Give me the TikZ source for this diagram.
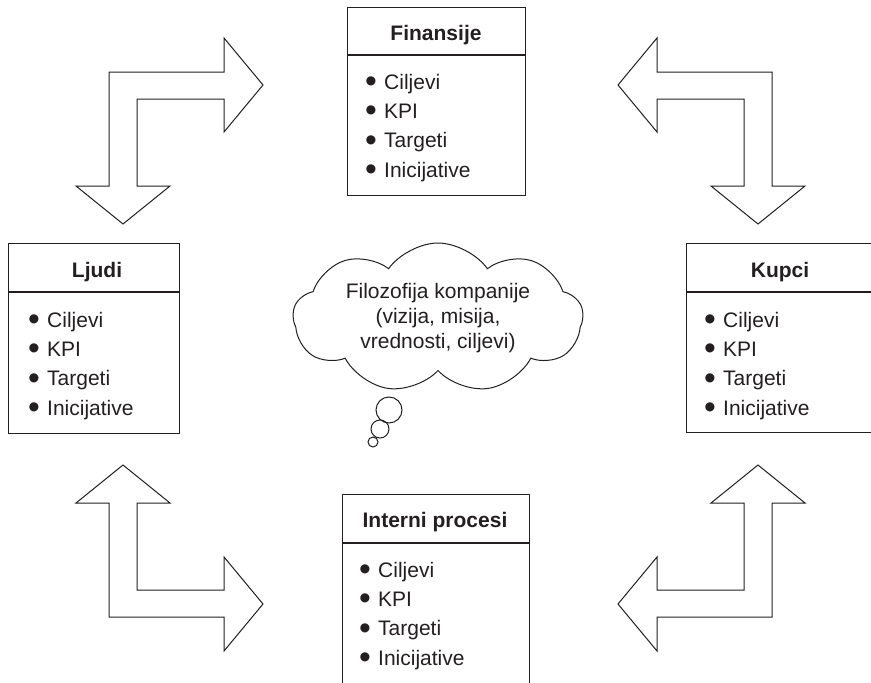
\documentclass[tikz,border=0pt]{standalone}
\usepackage{fontspec}
\setmainfont{Liberation Sans}
\usepackage{graphicx}
\usetikzlibrary{positioning, shapes.symbols}
\definecolor{ink}{HTML}{231F20}
\newcommand{\kbul}{\makebox[19pt][l]{\raisebox{-3.5pt}{\scalebox{1.6}{\textbullet}}}}
\newcommand{\kpiitems}{\kbul Ciljevi\\\kbul KPI\\\kbul Targeti\\\kbul Inicijative}
\tikzset{
x=1pt, y=-1pt, % pixel-like units, y grows downwards
kpibox/.style={draw=ink, line width=1.2pt, anchor=north west, inner sep=0pt}, % frame of a perspective
boxhead/.style={text=ink, font=\bfseries\fontsize{21}{29}\selectfont, anchor=base}, % title of a perspective
boxlist/.style={text=ink, font=\fontsize{21}{29.3}\selectfont, align=left, anchor=base west, inner sep=0pt}, % the four items, placed by the last line
blockarrow/.style={draw=ink, line width=1pt, line join=miter, fill=white}, % bent hollow arrows
idea/.style={cloud, cloud puffs=9, cloud puff arc=110, cloud ignores aspect, draw=ink, line width=1pt, minimum width=290pt, minimum height=150pt, text=ink, font=\fontsize{21}{25}\selectfont, align=center},
bubble/.style={circle, draw=ink, line width=1pt, inner sep=0pt},
}
\begin{document}
\begin{tikzpicture}
\clip (0,0) rectangle (871,683);

% bent arrows, one per corner
\foreach \sx/\sy in {1/1, -1/1, 1/-1, -1/-1} {
  \begin{scope}[shift={(440.5,344.5)}, xscale=\sx, yscale=\sy]
    \draw[blockarrow] (-177.5,-259.5) -- (-216.5,-306.5) -- (-216.5,-272.5)
      -- (-331.5,-272.5) -- (-331.5,-158.5) -- (-364.5,-158.5)
      -- (-317.5,-120.5) -- (-270.5,-158.5) -- (-303.5,-158.5)
      -- (-303.5,-245.5) -- (-216.5,-245.5) -- (-216.5,-212.5) -- cycle;
  \end{scope}
}

% perspectives
\node[kpibox, minimum width=178pt, minimum height=188pt] (fin) at (347,7) {};
\draw[ink, line width=1.2pt] ([yshift=-48pt]fin.north west) -- ([yshift=-48pt]fin.north east);
\node[boxhead] (fin-head) at (436,40) {Finansije};
\node[boxlist] (fin-list) at (365,177) {\kpiitems};

\node[kpibox, minimum width=171pt, minimum height=190pt] (ljudi) at (8,243) {};
\draw[ink, line width=1.2pt] ([yshift=-49pt]ljudi.north west) -- ([yshift=-49pt]ljudi.north east);
\node[boxhead] (ljudi-head) at (97,277) {Ljudi};
\node[boxlist] (ljudi-list) at (28,415) {\kpiitems};

\node[kpibox, minimum width=188pt, minimum height=189pt] (kupci) at (686,243) {};
\draw[ink, line width=1.2pt] ([yshift=-49pt]kupci.north west) -- ([yshift=-49pt]kupci.north east);
\node[boxhead] (kupci-head) at (780,277) {Kupci};
\node[boxlist] (kupci-list) at (704,415) {\kpiitems};

\node[kpibox, minimum width=187pt, minimum height=210pt] (proc) at (342,494) {};
\draw[ink, line width=1.2pt] ([yshift=-49pt]proc.north west) -- ([yshift=-49pt]proc.north east);
\node[boxhead] (proc-head) at (435,527) {Interni procesi};
\node[boxlist] (proc-list) at (359,665) {\kpiitems};

% company philosophy
\node[idea] (cloud) at (438,318) {Filozofija kompanije\\(vizija, misija,\\vrednosti, ciljevi)};
\node[bubble, minimum size=26pt] (b1) at (389,410) {};
\node[bubble, minimum size=18pt] (b2) at (380,429) {};
\node[bubble, minimum size=10pt] (b3) at (373,442) {};
\end{tikzpicture}
\end{document}
